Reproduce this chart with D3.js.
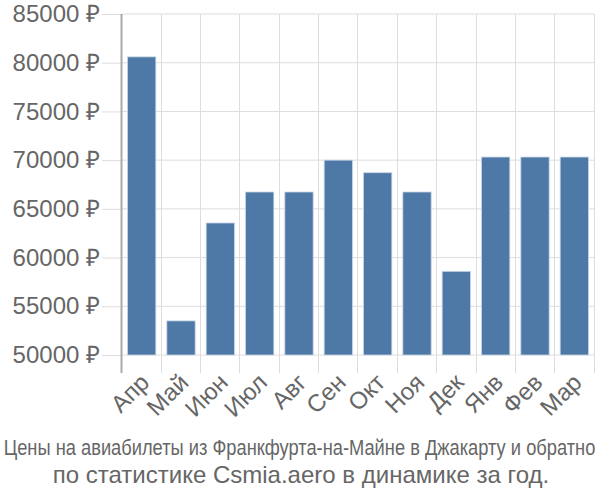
<!DOCTYPE html>
<html>
<head>
<meta charset="utf-8">
<script src="https://cdn.jsdelivr.net/npm/d3@7"></script>
<style>
  body { margin: 0; background: #fff; }
  text { font-family: "Liberation Sans", Arial, sans-serif; fill: #666; }
</style>
</head>
<body>
<div id="chart"></div>
<script>
// months (Apr..Mar) and average ticket price, rub
const months = ["Апр", "Май", "Июн", "Июл", "Авг", "Сен", "Окт", "Ноя", "Дек", "Янв", "Фев", "Мар"];
const prices = [80600, 53500, 63550, 66730, 66730, 70000, 68710, 66730, 58590, 70320, 70320, 70320];
const yTicks = [50000, 55000, 60000, 65000, 70000, 75000, 80000, 85000];
const titleLines = [
    "Цены на авиабилеты из Франкфурта-на-Майне в Джакарту и обратно",
    "по статистике Csmia.aero в динамике за год."
];

var width = 600, height = 500;
var margin = {top: 14, right: 6, bottom: 145, left: 122};
var innerwidth = width - margin.left - margin.right;
var innerheight = height - margin.top - margin.bottom;

const svg = d3.select("#chart")
    .append("svg")
    .attr("width", width)
    .attr("height", height);

const g = svg.append("g")
    .attr("transform", "translate(" + margin.left + "," + margin.top + ")");

const xscale = d3.scaleBand()
    .domain(months)
    .range([0, innerwidth])
    .paddingInner(0.28)
    .paddingOuter(0.14);

const yscale = d3.scaleLinear()
    .domain([50000, 85000])
    .range([innerheight, 0]);

// horizontal grid + y labels
const yaxis = d3.axisLeft(yscale)
    .tickValues(yTicks)
    .tickSize(20)
    .tickPadding(2)
    .tickFormat(d => d + " ₽");
const yaxisG = g.append("g").call(yaxis);
yaxisG.select(".domain").remove();
yaxisG.selectAll(".tick line").attr("stroke", "#ddd").attr("stroke-width", 1);
yaxisG.selectAll(".tick text").attr("font-size", "24px").attr("fill", "#666");

g.append("g")
    .selectAll("line")
    .data(yTicks)
    .enter()
    .append("line")
    .attr("x1", 0)
    .attr("x2", innerwidth)
    .attr("y1", d => yscale(d))
    .attr("y2", d => yscale(d))
    .attr("stroke", "#ddd");

// vertical grid at band edges
const edges = months.map(m => xscale(m) - xscale.step() * xscale.paddingInner() / 2 - 0.5).concat([innerwidth]);
g.append("g")
    .selectAll("line")
    .data(edges)
    .enter()
    .append("line")
    .attr("x1", d => Math.round(d) + 0.5)
    .attr("x2", d => Math.round(d) + 0.5)
    .attr("y1", 0)
    .attr("y2", innerheight + 18)
    .attr("stroke", (d, i) => i === 0 ? "#aaa" : "#ddd")
    .attr("stroke-width", (d, i) => i === 0 ? 2 : 1);

// bars
g.selectAll("rect.bar")
    .data(prices)
    .enter()
    .append("rect")
    .attr("class", "bar")
    .attr("x", (d, i) => xscale(months[i]))
    .attr("width", xscale.bandwidth())
    .attr("y", d => yscale(d))
    .attr("height", d => innerheight - yscale(d))
    .attr("fill", "#4e79a7")
    .attr("stroke", "#c8d6e6")
    .attr("stroke-width", 0.8);

// x labels
const xaxis = d3.axisBottom(xscale).tickSize(0).tickPadding(0);
const xaxisG = g.append("g")
    .attr("transform", "translate(0," + innerheight + ")")
    .call(xaxis);
xaxisG.select(".domain").remove();
xaxisG.selectAll(".tick text")
    .attr("font-size", "24px")
    .attr("fill", "#666")
    .attr("text-anchor", "end")
    .attr("dy", "0.35em")
    .attr("transform", "translate(3,23) rotate(-45)");

// title, first line squeezed horizontally to fit the width
const t1 = svg.append("text")
    .attr("x", 0)
    .attr("y", 0)
    .attr("text-anchor", "middle")
    .attr("font-size", "23px")
    .text(titleLines[0]);
const natural = t1.node().getComputedTextLength();
t1.attr("transform", "translate(299.5,455) scale(" + (592 / natural) + ",1)");

svg.append("text")
    .attr("x", 301)
    .attr("y", 483)
    .attr("text-anchor", "middle")
    .attr("font-size", "24px")
    .text(titleLines[1]);
</script>
</body>
</html>
